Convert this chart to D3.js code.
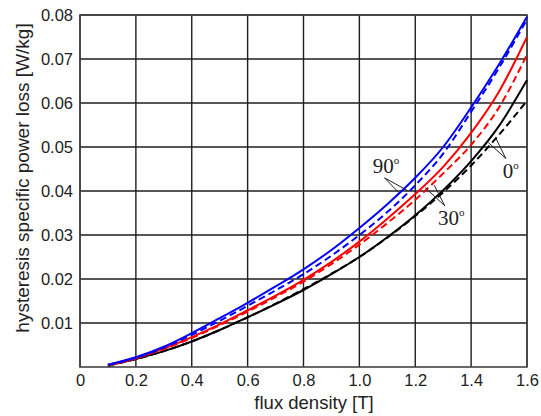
<!DOCTYPE html>
<html><head><meta charset="utf-8">
<script src="https://cdn.jsdelivr.net/npm/d3@7"></script>
<style>body{margin:0;background:#fff}svg{display:block}</style>
</head><body><svg id="c" width="541" height="416"></svg>
<script>
const flux = [0.1,0.2,0.3,0.4,0.5,0.6,0.7,0.8,0.9,1.0,1.1,1.2,1.3,1.4,1.5,1.6];
const blueSolid  = [0.0005,0.0022,0.0046,0.0077,0.0111,0.0146,0.0183,0.0222,0.0266,0.0316,0.0370,0.0430,0.0500,0.0590,0.0688,0.0796];
const blueDashed = [0.0005,0.0021,0.0044,0.0073,0.0105,0.0139,0.0174,0.0211,0.0253,0.0300,0.0352,0.0413,0.0485,0.0580,0.0680,0.0790];
const redSolid   = [0.0004,0.0020,0.0042,0.0068,0.0097,0.0129,0.0162,0.0198,0.0239,0.0285,0.0337,0.0393,0.0455,0.0532,0.0626,0.0750];
const redDashed  = [0.0004,0.0020,0.0041,0.0066,0.0095,0.0126,0.0159,0.0194,0.0234,0.0278,0.0327,0.0380,0.0440,0.0505,0.0590,0.0710];
const blackSolid = [0.0003,0.0018,0.0036,0.0058,0.0084,0.0113,0.0143,0.0175,0.0211,0.0250,0.0295,0.0345,0.0402,0.0468,0.0548,0.0652];
const blackDashed= [0.0003,0.0018,0.0036,0.0058,0.0084,0.0113,0.0144,0.0177,0.0212,0.0250,0.0294,0.0343,0.0397,0.0458,0.0528,0.0605];
const xTicks = [0,0.2,0.4,0.6,0.8,1.0,1.2,1.4,1.6];
const xTickLabels = ["0","0.2","0.4","0.6","0.8","1.0","1.2","1.4","1.6"];
const yTicks = [0.01,0.02,0.03,0.04,0.05,0.06,0.07,0.08];
const yTickLabels = ["0.01","0.02","0.03","0.04","0.05","0.06","0.07","0.08"];
const series = [
  {values: blackSolid, color:"#000000", dash:null},
  {values: blackDashed, color:"#000000", dash:"7,4"},
  {values: redSolid, color:"#ff0000", dash:null},
  {values: redDashed, color:"#ff0000", dash:"7,4"},
  {values: blueSolid, color:"#0000ff", dash:null},
  {values: blueDashed, color:"#0000ff", dash:"7,4"}
];
const annLabels = ["90", "30", "0"];
const annText = [[1.048,0.0441],[1.281,0.0323],[1.513,0.0429]];
const annApex = [[1.09,0.0430],[1.306,0.0366],[1.524,0.0474]];
const annEndA = [[1.14,0.0397],[1.235,0.0408],[1.462,0.0510]];
const annEndB = [[1.175,0.0400],[1.268,0.0413],[1.487,0.0522]];

const svg = d3.select("#c");
const L=80, R=527, T=15, B=367;
const x = d3.scaleLinear().domain([0,1.6]).range([L,R]);
const y = d3.scaleLinear().domain([0,0.08]).range([B,T]);
const sans = "Liberation Sans, Arial, sans-serif";

// grid
svg.append("g").selectAll("line").data(xTicks).join("line")
  .attr("x1",d=>x(d)).attr("x2",d=>x(d)).attr("y1",T).attr("y2",B)
  .attr("stroke","#1e1e1e").attr("stroke-width",1.4);
svg.append("g").selectAll("line").data(yTicks).join("line")
  .attr("x1",L).attr("x2",R).attr("y1",d=>y(d)).attr("y2",d=>y(d))
  .attr("stroke","#1e1e1e").attr("stroke-width",1.4);
svg.append("rect").attr("x",L).attr("y",T).attr("width",R-L).attr("height",B-T)
  .attr("fill","none").attr("stroke","#444").attr("stroke-width",1.6);

// axes labels
const xa = d3.axisBottom(x).tickValues(xTicks).tickFormat((d,i)=>xTickLabels[i]).tickSize(0).tickPadding(7);
const gx = svg.append("g").attr("transform",`translate(0,${B})`).call(xa);
gx.select(".domain").remove();
gx.selectAll("text").attr("font-family",sans).attr("font-size",16.5).attr("fill","#222");
const ya = d3.axisLeft(y).tickValues(yTicks).tickFormat((d,i)=>yTickLabels[i]).tickSize(0).tickPadding(7);
const gy = svg.append("g").attr("transform",`translate(${L},0)`).call(ya);
gy.select(".domain").remove();
gy.selectAll("text").attr("font-family",sans).attr("font-size",16.5).attr("fill","#222");

svg.append("text").attr("x",314).attr("y",409).attr("text-anchor","middle")
  .attr("font-family",sans).attr("font-size",18.5).attr("fill","#222")
  .text("flux density [T]");
svg.append("text").attr("transform","translate(29,178) rotate(-90)").attr("text-anchor","middle")
  .attr("font-family",sans).attr("font-size",19).attr("fill","#222")
  .text("hysteresis specific power loss [W/kg]");

// curves
const line = d3.line().x((d,i)=>x(flux[i])).y(d=>y(d)).curve(d3.curveMonotoneX);
svg.append("g").selectAll("path").data(series).join("path")
  .attr("d",d=>line(d.values)).attr("fill","none")
  .attr("stroke",d=>d.color).attr("stroke-width",2)
  .attr("stroke-dasharray",d=>d.dash);

// annotations
const ag = svg.append("g");
annLabels.forEach((lab,i)=>{
  [annEndA[i],annEndB[i]].forEach(e=>{
    ag.append("line").attr("x1",x(annApex[i][0])).attr("y1",y(annApex[i][1]))
      .attr("x2",x(e[0])).attr("y2",y(e[1])).attr("stroke","#222").attr("stroke-width",1);
  });
  const t = ag.append("text").attr("x",x(annText[i][0])).attr("y",y(annText[i][1]))
    .attr("font-family","Liberation Serif, Times New Roman, serif").attr("font-size",21).attr("fill","#222");
  t.append("tspan").text(lab);
  t.append("tspan").attr("font-size",11).attr("dy",-9).text("o");
});
</script></body></html>
